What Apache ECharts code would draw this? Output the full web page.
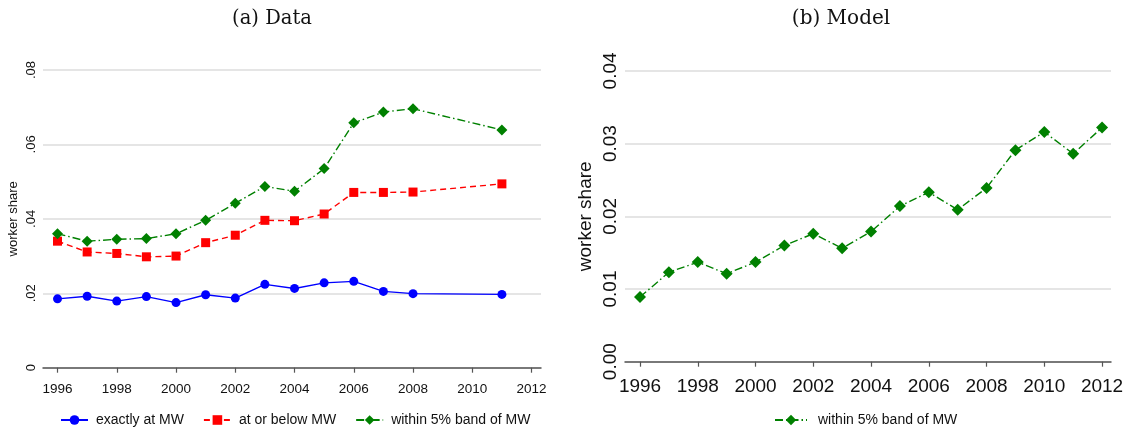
<!DOCTYPE html>
<html>
<head>
<meta charset="utf-8">
<script src="https://cdn.jsdelivr.net/npm/echarts@6/dist/echarts.min.js"></script>
<style>
html,body{margin:0;padding:0;background:#fff;}
#c{width:1128px;height:430px;}
</style>
</head>
<body>
<div id="c"></div>
<script>
// Panel (a) Data
var yearsA = [1996,1997,1998,1999,2000,2001,2002,2003,2004,2005,2006,2007,2008,2011];
var exactlyAtMW = [0.0185,0.0192,0.0179,0.0191,0.0175,0.0196,0.0187,0.0224,0.0213,0.0228,0.0232,0.0205,0.0199,0.0197];
var atOrBelowMW = [0.0340,0.0311,0.0307,0.0298,0.0300,0.0336,0.0356,0.0396,0.0395,0.0413,0.0471,0.0471,0.0472,0.0494];
var within5Data = [0.0360,0.0340,0.0345,0.0347,0.0360,0.0396,0.0442,0.0487,0.0474,0.0535,0.0658,0.0687,0.0696,0.0639];
// Panel (b) Model
var yearsB = [1996,1997,1998,1999,2000,2001,2002,2003,2004,2005,2006,2007,2008,2009,2010,2011,2012];
var within5Model = [0.0089,0.0123,0.0137,0.0121,0.0137,0.0160,0.0176,0.0156,0.0179,0.0214,0.0233,0.0209,0.0239,0.0291,0.0316,0.0286,0.0322];
// Tick labels
var xTicks = [1996,1998,2000,2002,2004,2006,2008,2010,2012];
var yTicksA = [0,0.02,0.04,0.06,0.08];
var yTicksB = [0,0.01,0.02,0.03,0.04];

function pairs(xs, ys){ return xs.map(function(x,i){ return [x, ys[i]]; }); }

var SANS = '"Liberation Sans", Arial, sans-serif';
var SERIF = '"DejaVu Serif", serif';
var GRID_COLOR = '#dcdcdc';
var AXIS_COLOR = '#555555';

var chart = echarts.init(document.getElementById('c'), null, {renderer:'canvas'});
chart.setOption({
  backgroundColor:'#ffffff',
  animation:false,
  title:[
    {text:'(a) Data', left:272, top:9, textAlign:'center', padding:0,
     textStyle:{fontFamily:SERIF, fontSize:19.5, fontWeight:'normal', color:'#111'}},
    {text:'(b) Model', left:841, top:9, textAlign:'center', padding:0,
     textStyle:{fontFamily:SERIF, fontSize:20, fontWeight:'normal', color:'#111'}}
  ],
  legend:[
    {data:['exactly at MW','at or below MW','within 5% band of MW'], left:60, top:413, padding:0,
     itemWidth:27, itemHeight:12, itemGap:19,
     textStyle:{fontFamily:SANS, fontSize:14, color:'#111', padding:[0,0,0,3]}},
    {data:[{name:'within 5% band of MW '}], left:774, top:413, padding:0,
     itemWidth:32, itemHeight:13,
     textStyle:{fontFamily:SANS, fontSize:14, color:'#111', padding:[0,0,0,6]}}
  ],
  grid:[
    {left:43, right:1128-541, top:70, bottom:430-367.7},
    {left:625, right:1128-1111, top:70.9, bottom:430-361.7}
  ],
  xAxis:[
    {type:'value', gridIndex:0, min:1995.51, max:2012.32, offset:9,
     splitLine:{show:false},
     axisLine:{show:true, lineStyle:{color:AXIS_COLOR, width:1.5}},
     axisTick:{show:true, length:5, lineStyle:{color:AXIS_COLOR, width:1.2}, customValues:xTicks},
     axisLabel:{customValues:xTicks, fontFamily:SANS, fontSize:13.5, color:'#111', margin:6,
                formatter:function(v){return String(Math.round(v));}}},
    {type:'value', gridIndex:1, min:1995.48, max:2012.31, offset:9,
     splitLine:{show:false},
     axisLine:{show:true, lineStyle:{color:AXIS_COLOR, width:1.5}},
     axisTick:{show:true, length:5, lineStyle:{color:AXIS_COLOR, width:1.2}, customValues:xTicks},
     axisLabel:{customValues:xTicks, fontFamily:SANS, fontSize:19, color:'#111', margin:7,
                formatter:function(v){return String(Math.round(v));}}}
  ],
  yAxis:[
    {type:'value', gridIndex:0, min:yTicksA[0], max:yTicksA[yTicksA.length-1], interval:0.02,
     name:'worker share', nameLocation:'middle', nameRotate:90, nameGap:23,
     nameTextStyle:{fontFamily:SANS, fontSize:13, color:'#111'},
     axisLine:{show:false}, axisTick:{show:false},
     splitLine:{show:true, lineStyle:{color:GRID_COLOR, width:1.5}},
     axisLabel:{rotate:90, fontFamily:SANS, fontSize:13, color:'#111', margin:5,
                formatter:function(v){ return v===0 ? '0' : v.toFixed(2).replace(/^0/,''); }}},
    {type:'value', gridIndex:1, min:yTicksB[0], max:yTicksB[yTicksB.length-1], interval:0.01,
     name:'worker share', nameLocation:'middle', nameRotate:90, nameGap:30,
     nameTextStyle:{fontFamily:SANS, fontSize:19, color:'#111'},
     axisLine:{show:false}, axisTick:{show:false},
     splitLine:{show:true, lineStyle:{color:GRID_COLOR, width:1.5}},
     axisLabel:{rotate:90, fontFamily:SANS, fontSize:19, color:'#111', margin:5,
                formatter:function(v){ return v.toFixed(2); }}}
  ],
  series:[
    {name:'exactly at MW', type:'line', xAxisIndex:0, yAxisIndex:0, data:pairs(yearsA, exactlyAtMW),
     symbol:'circle', symbolSize:9, itemStyle:{color:'#0000ff'},
     lineStyle:{color:'#0000ff', width:1.4, type:'solid'}},
    {name:'at or below MW', type:'line', xAxisIndex:0, yAxisIndex:0, data:pairs(yearsA, atOrBelowMW),
     symbol:'rect', symbolSize:9, itemStyle:{color:'#ff0000'},
     lineStyle:{color:'#ff0000', width:1.4, type:[6,4]}},
    {name:'within 5% band of MW', type:'line', xAxisIndex:0, yAxisIndex:0, data:pairs(yearsA, within5Data),
     symbol:'diamond', symbolSize:11, itemStyle:{color:'#008000'},
     lineStyle:{color:'#008000', width:1.4, type:[8,3,1.5,3]}},
    {name:'within 5% band of MW ', type:'line', xAxisIndex:1, yAxisIndex:1, data:pairs(yearsB, within5Model),
     symbol:'diamond', symbolSize:12, itemStyle:{color:'#008000'},
     lineStyle:{color:'#008000', width:1.4, type:[8,3,1.5,3]}}
  ]
});
</script>
</body>
</html>
